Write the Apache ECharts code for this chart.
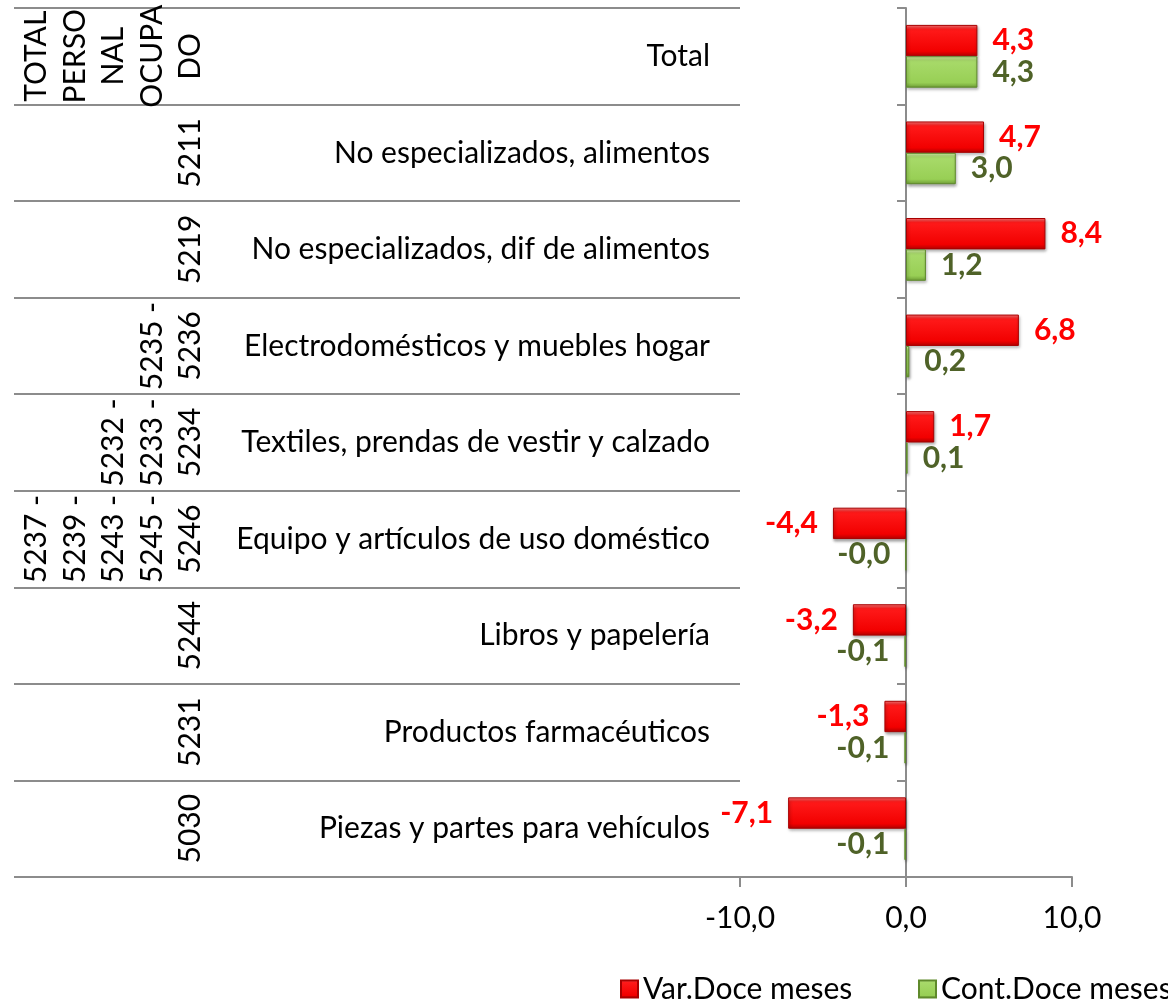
<!DOCTYPE html>
<html>
<head>
<meta charset="utf-8">
<script src="https://cdn.jsdelivr.net/npm/echarts@6/dist/echarts.min.js"></script>
<style>
  html, body { margin: 0; padding: 0; background: #fff; }
  #main { width: 1168px; height: 1005px; }
</style>
</head>
<body>
<div id="main"></div>
<script>
const categories = [
  'Total',
  'No especializados, alimentos',
  'No especializados, dif de alimentos',
  'Electrodomésticos y muebles hogar',
  'Textiles, prendas de vestir y calzado',
  'Equipo y artículos de uso doméstico',
  'Libros y papelería',
  'Productos farmacéuticos',
  'Piezas y partes para vehículos'
];
const codes = [
  'TOTAL\nPERSO\nNAL\nOCUPA\nDO',
  '5211',
  '5219',
  '5235 -\n5236',
  '5232 -\n5233 -\n5234',
  '5237 -\n5239 -\n5243 -\n5245 -\n5246',
  '5244',
  '5231',
  '5030'
];
const varDoce = [4.3, 4.7, 8.4, 6.8, 1.7, -4.4, -3.2, -1.3, -7.1];
const contDoce = [4.3, 3.0, 1.2, 0.2, 0.1, -0.02, -0.1, -0.1, -0.1];
const seriesNames = ['Var.Doce meses', 'Cont.Doce meses'];

const FONT = 'Lato';
const FS = 30;
const GRAY = '#8c8c8c';

const fmt = v => v.toFixed(1).replace('.', ',');

function barData(values) {
  return values.map(v => ({
    value: v,
    label: { position: v < 0 ? 'left' : 'right' }
  }));
}

const redFill = {
  type: 'linear', x: 0, y: 0, x2: 0, y2: 1,
  colorStops: [
    { offset: 0, color: '#ff7a7a' },
    { offset: 0.14, color: '#ff1a1a' },
    { offset: 0.84, color: '#f20000' },
    { offset: 1, color: '#b00000' }
  ]
};
const greenFill = {
  type: 'linear', x: 0, y: 0, x2: 0, y2: 1,
  colorStops: [
    { offset: 0, color: '#d6f2ab' },
    { offset: 0.14, color: '#a8da6a' },
    { offset: 0.84, color: '#98cf55' },
    { offset: 1, color: '#6e9d36' }
  ]
};

// one legend per item so they never wrap
function legendItem(name, left) {
  return {
    data: [name],
    left: left,
    top: 974,
    icon: 'rect',
    itemWidth: 17,
    itemHeight: 17,
    itemGap: 0,
    padding: 0,
    textStyle: { fontFamily: FONT, fontSize: FS, color: '#000' }
  };
}

const chart = echarts.init(document.getElementById('main'));
chart.setOption({
  animation: false,
  textStyle: { fontFamily: FONT },
  legend: [
    legendItem(seriesNames[0], 620),
    legendItem(seriesNames[1], 918)
  ],
  grid: [
    { left: 740, right: 96, top: 8, bottom: 128 },
    { left: 14, right: 428, top: 8, bottom: 128 }
  ],
  xAxis: [
    {
      gridIndex: 0,
      type: 'value',
      min: -10,
      max: 10,
      interval: 10,
      axisLine: { show: true, lineStyle: { color: GRAY, width: 2 } },
      axisTick: { show: true, length: 10, lineStyle: { color: GRAY, width: 2 } },
      axisLabel: { formatter: fmt, fontFamily: FONT, fontSize: FS, color: '#000', margin: 26 },
      splitLine: { show: false }
    },
    { gridIndex: 1, type: 'value', min: 0, max: 1, show: false }
  ],
  yAxis: [
    {
      gridIndex: 0,
      type: 'category',
      inverse: true,
      data: categories,
      axisLine: { show: true, onZero: true, lineStyle: { color: GRAY, width: 2 } },
      axisTick: { show: true, length: 9, lineStyle: { color: GRAY, width: 2 } },
      axisLabel: { show: false },
      splitLine: { show: false }
    },
    {
      gridIndex: 1,
      type: 'category',
      inverse: true,
      position: 'right',
      data: categories,
      axisLine: { show: false },
      axisTick: { show: false },
      axisLabel: { inside: true, interval: 0, margin: 30, fontFamily: FONT, fontSize: FS, color: '#000' },
      splitLine: { show: true, interval: 0, lineStyle: { color: GRAY, width: 2 } }
    }
  ],
  series: [
    {
      name: seriesNames[0],
      type: 'bar',
      xAxisIndex: 0,
      yAxisIndex: 0,
      data: barData(varDoce),
      barGap: '0%',
      barCategoryGap: '35%',
      itemStyle: {
        color: redFill,
        borderColor: '#a80000',
        borderWidth: 1,
        shadowColor: 'rgba(0,0,0,0.35)',
        shadowBlur: 3,
        shadowOffsetX: 1,
        shadowOffsetY: 2
      },
      label: {
        show: true,
        distance: 15,
        formatter: p => fmt(p.value),
        fontFamily: FONT,
        fontSize: FS,
        fontWeight: 'bold',
        color: '#ff0000'
      }
    },
    {
      name: seriesNames[1],
      type: 'bar',
      xAxisIndex: 0,
      yAxisIndex: 0,
      data: barData(contDoce),
      barGap: '0%',
      barCategoryGap: '35%',
      itemStyle: {
        color: greenFill,
        borderColor: '#5f8a2b',
        borderWidth: 1,
        shadowColor: 'rgba(0,0,0,0.35)',
        shadowBlur: 3,
        shadowOffsetX: 1,
        shadowOffsetY: 2
      },
      label: {
        show: true,
        distance: 15,
        formatter: p => fmt(p.value),
        fontFamily: FONT,
        fontSize: FS,
        fontWeight: 'bold',
        color: '#4f6228'
      }
    },
    {
      type: 'custom',
      xAxisIndex: 1,
      yAxisIndex: 1,
      silent: true,
      data: codes.map((c, i) => [0, i]),
      renderItem: function (params, api) {
        const i = api.value(1);
        const pt = api.coord([0, i]);
        return {
          type: 'text',
          x: pt[0] + 196,
          y: pt[1],
          rotation: Math.PI / 2,
          style: {
            text: codes[i],
            fontFamily: FONT,
            fontSize: FS,
            lineHeight: 38.5,
            align: 'center',
            verticalAlign: 'bottom',
            fill: '#000'
          }
        };
      }
    }
  ]
});
</script>
</body>
</html>
